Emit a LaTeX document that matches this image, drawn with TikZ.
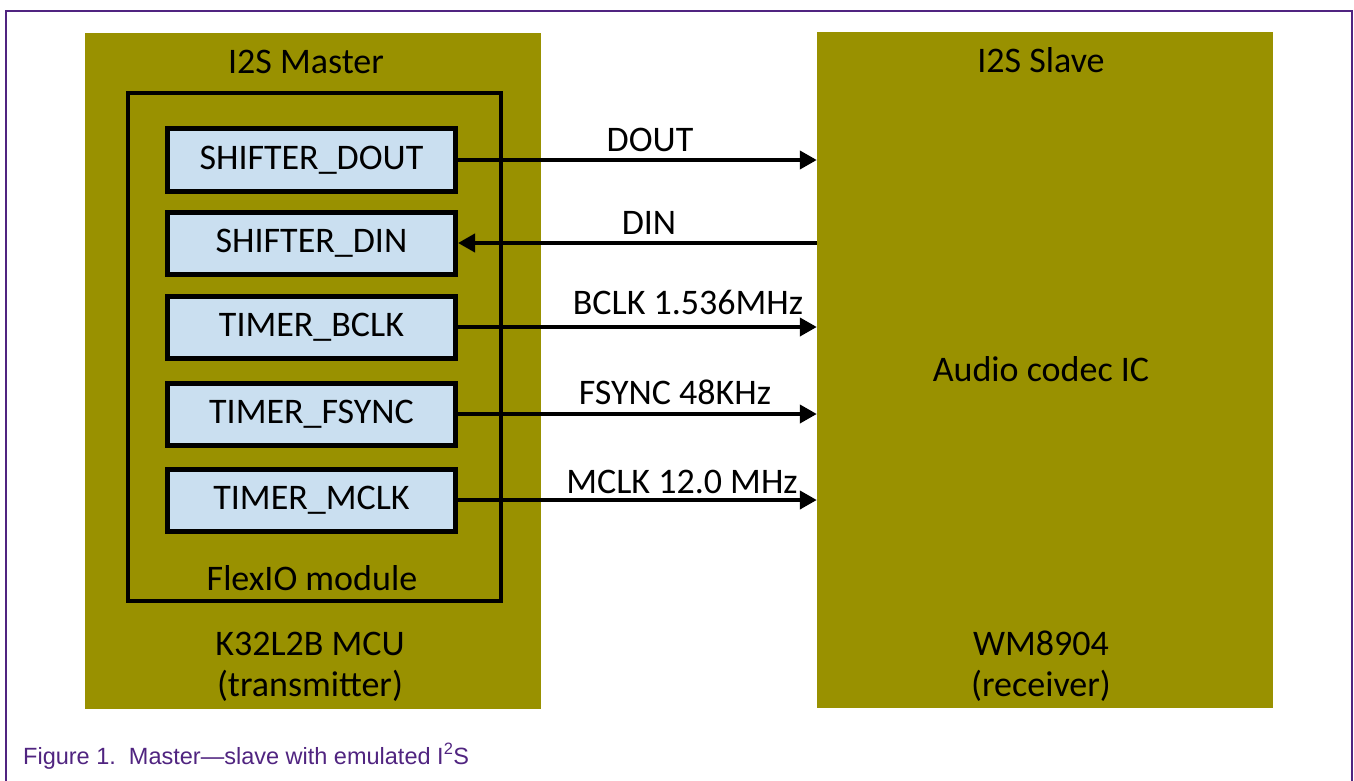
\documentclass[tikz,border=0pt]{standalone}
\usepackage{fontspec}
\setmainfont{Carlito}
\newfontfamily\capfont{Liberation Sans}
\usetikzlibrary{arrows.meta}
\definecolor{olivebg}{RGB}{153,145,0}
\definecolor{boxblue}{RGB}{202,223,240}
\definecolor{nxppurple}{RGB}{80,36,128}
\begin{document}
\begin{tikzpicture}[x=1pt, y=-1pt,
	every node/.style={font=\fontsize{36}{40}\selectfont, inner sep=0pt},
	block/.style={fill=olivebg, minimum width=456pt, minimum height=676pt},
	regbox/.style={draw=black, fill=boxblue, line width=5pt, minimum width=288pt, minimum height=62pt},
	sig/.style={line width=4pt, -{Triangle[length=17pt,width=18pt]}}]
		\useasboundingbox (0,0) rectangle (1354,781);
		% frame and caption
		\draw[nxppurple, line width=2.5pt] (6,781) -- (6,11) -- (1352,11) -- (1352,781);
		\node[anchor=base west, text=nxppurple, font=\capfont\fontsize{23.5}{27}\selectfont] (cap) at (23,764) {Figure 1.\ \ Master—slave with emulated I\textsuperscript{2}S};
		% blocks
		\node[block] (master) at (313,371) {};
		\node[block] (slave) at (1045,370) {};
		\node[draw=black, line width=4pt, minimum width=373pt, minimum height=508pt] (flexio) at (314.5,347) {};
		\node (mtitle) at (306,62) {I2S Master};
		\node (stitle) at (1041,60) {I2S Slave};
		\node (fxlabel) at (312,578) {FlexIO module};
		\node[align=center, font=\fontsize{36}{41}\selectfont] (mcu) at (310,667) {K32L2B MCU\\(transmitter)};
		\node[align=center, font=\fontsize{36}{41}\selectfont] (codec) at (1041,666) {WM8904\\(receiver)};
		\node (ic) at (1041,369) {Audio codec IC};
		% registers
		\node[regbox] (dout) at (311.5,160) {SHIFTER\_DOUT};
		\node[regbox] (din) at (311.5,243) {SHIFTER\_DIN};
		\node[regbox] (bclk) at (311.5,327) {TIMER\_BCLK};
		\node[regbox] (fsync) at (311.5,414) {TIMER\_FSYNC};
		\node[regbox] (mclk) at (311.5,500) {TIMER\_MCLK};
		% signals
		\draw[sig] (dout.east) -- (dout.east -| slave.west);
		\draw[sig] (din.east -| slave.west) -- (din.east);
		\draw[sig] (bclk.east) -- (bclk.east -| slave.west);
		\draw[sig] (fsync.east) -- (fsync.east -| slave.west);
		\draw[sig] (mclk.east) -- (mclk.east -| slave.west);
		\node (ldout) at (650,140) {DOUT};
		\node (ldin) at (649,223) {DIN};
		\node (lbclk) at (688,302) {BCLK 1.536MHz};
		\node (lfsync) at (675,392) {FSYNC 48KHz};
		\node (lmclk) at (682,482) {MCLK 12.0 MHz};
	\end{tikzpicture}
\end{document}
